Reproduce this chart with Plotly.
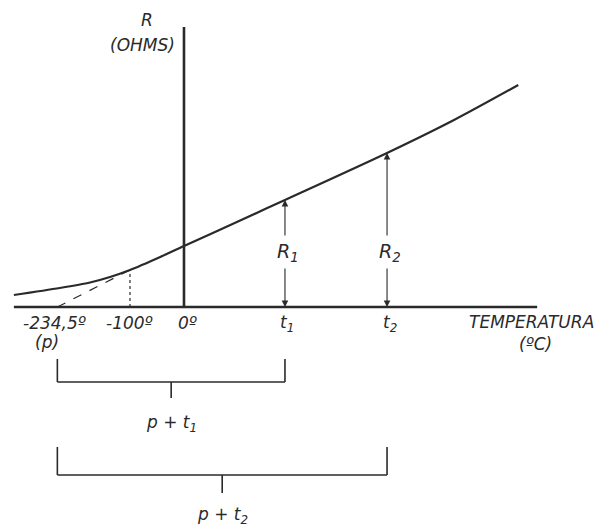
import plotly.graph_objects as go

# ---- data (temperature in degC, resistance in arbitrary units) ----
curve_T = [-315, -230, -174, -137, -100, -44, 0, 104, 187, 376, 500, 619]
curve_R = [12, 19, 24.5, 30, 37, 50, 61, 86.5, 107, 154, 187, 222]

p_T = -234.5          # inferred absolute zero of resistance
ref_T = -100          # point where the dashed extrapolation meets the curve
ref_R = 37
t1, R1 = 187, 107
t2, R2 = 376, 154

axis_T_min, axis_T_max = -315, 654
axis_R_max = 280

tick_T = [-239, -100, 6, 190, 381]
tick_labels = ["-234,5º", "-100º", "0º", "t<sub>1</sub>", "t<sub>2</sub>"]

INK = "#2a2a2a"
FONT = dict(family="DejaVu Sans", size=17, color=INK, style="italic")

fig = go.Figure()

# main curve
fig.add_trace(go.Scatter(x=curve_T, y=curve_R, mode="lines",
                         line=dict(color=INK, width=2.2, shape="spline", smoothing=0.8),
                         hoverinfo="skip", showlegend=False))
# dashed extrapolation to -234.5
fig.add_trace(go.Scatter(x=[p_T, ref_T], y=[0, ref_R], mode="lines",
                         line=dict(color=INK, width=1.2, dash="dash"),
                         hoverinfo="skip", showlegend=False))
# dotted vertical at -100
fig.add_trace(go.Scatter(x=[ref_T, ref_T], y=[0, ref_R], mode="lines",
                         line=dict(color=INK, width=1.2, dash="dot"),
                         hoverinfo="skip", showlegend=False))

shapes = []
# axes
shapes.append(dict(type="line", x0=axis_T_min, x1=axis_T_max, y0=0, y1=0,
                   line=dict(color=INK, width=2.6)))
shapes.append(dict(type="line", x0=0, x1=0, y0=0, y1=axis_R_max,
                   line=dict(color=INK, width=2.6)))

# brackets
def bracket(xa, xb, ytop, ybot, ytick):
    xm = (xa + xb) / 2
    return [
        dict(type="line", x0=xa, x1=xa, y0=ytop, y1=ybot, line=dict(color=INK, width=1.6)),
        dict(type="line", x0=xb, x1=xb, y0=ytop, y1=ybot, line=dict(color=INK, width=1.6)),
        dict(type="line", x0=xa, x1=xb, y0=ybot, y1=ybot, line=dict(color=INK, width=1.6)),
        dict(type="line", x0=xm, x1=xm, y0=ybot, y1=ytick, line=dict(color=INK, width=1.6)),
    ]

shapes += bracket(p_T, t1, -52, -75, -91)
shapes += bracket(p_T, t2, -140, -168, -186)

annotations = []
# tick labels
for tx, tl in zip(tick_T, tick_labels):
    annotations.append(dict(x=tx, y=-16, text=tl, showarrow=False, font=FONT,
                            xanchor="center", yanchor="middle"))
annotations.append(dict(x=-254, y=-35, text="(p)", showarrow=False, font=FONT))
annotations.append(dict(x=644, y=-15, text="TEMPERATURA", showarrow=False,
                        font=FONT, xanchor="center"))
annotations.append(dict(x=650, y=-37, text="(ºC)", showarrow=False, font=FONT))
annotations.append(dict(x=-68, y=287, text="R", showarrow=False, font=FONT))
annotations.append(dict(x=-76, y=262, text="(OHMS)", showarrow=False, font=FONT))

# R1 / R2 double arrows with labels
for tx, rv, lab in [(t1, R1, "R<sub>1</sub>"), (t2, R2, "R<sub>2</sub>")]:
    annotations.append(dict(x=tx + 5, y=55, text=lab, showarrow=False,
                            font=dict(family="DejaVu Sans", size=19, color=INK, style="italic")))
    annotations.append(dict(x=tx, y=rv, ax=tx, ay=70, axref="x", ayref="y", xref="x", yref="y",
                            text="", showarrow=True, arrowhead=2, arrowsize=1.2,
                            arrowwidth=1.1, arrowcolor=INK))
    annotations.append(dict(x=tx, y=0, ax=tx, ay=40, axref="x", ayref="y", xref="x", yref="y",
                            text="", showarrow=True, arrowhead=2, arrowsize=1.2,
                            arrowwidth=1.1, arrowcolor=INK))

# bracket labels
annotations.append(dict(x=(p_T + t1) / 2, y=-116, text="p + t<sub>1</sub>", showarrow=False, font=FONT))
annotations.append(dict(x=(p_T + t2) / 2, y=-208, text="p + t<sub>2</sub>", showarrow=False, font=FONT))

# page has an 8px body margin: shift ranges so marks land where they do in the reference
fig.update_layout(
    width=612, height=527, autosize=False,
    margin=dict(l=0, r=0, t=0, b=0),
    paper_bgcolor="white", plot_bgcolor="white",
    xaxis=dict(range=[-325.9, 807.4], visible=False, fixedrange=True),
    yaxis=dict(range=[-228, 299], visible=False, fixedrange=True),
    shapes=shapes, annotations=annotations, showlegend=False,
)

fig.write_html("out.html")
